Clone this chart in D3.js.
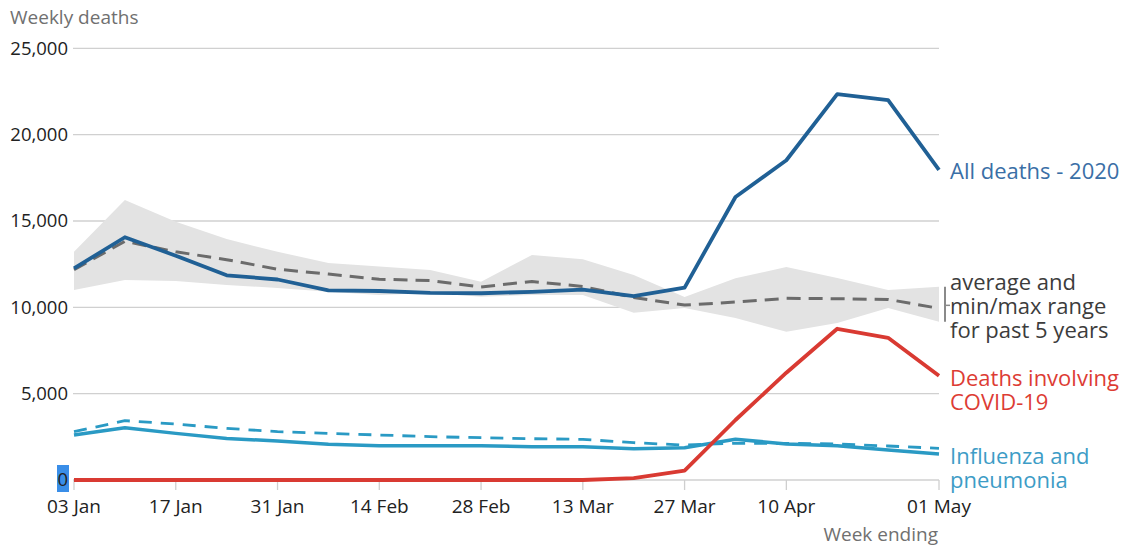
<!DOCTYPE html>
<html>
<head>
<meta charset="utf-8">
<script src="https://cdn.jsdelivr.net/npm/d3@7"></script>
<style>
  body { margin: 0; background: #fff; }
  svg text { font-family: "Open Sans", sans-serif; }
</style>
</head>
<body>
<svg id="chart" width="1128" height="546"></svg>
<script>
// week ending dates 2020
var weeks = ["2020-01-03","2020-01-10","2020-01-17","2020-01-24","2020-01-31","2020-02-07","2020-02-14","2020-02-21","2020-02-28","2020-03-06","2020-03-13","2020-03-20","2020-03-27","2020-04-03","2020-04-10","2020-04-17","2020-04-24","2020-05-01"];
var tickWeeks = ["2020-01-03","2020-01-17","2020-01-31","2020-02-14","2020-02-28","2020-03-13","2020-03-27","2020-04-10","2020-05-01"];

var allDeaths2020 = [12254, 14058, 12990, 11856, 11612, 10986, 10944, 10841, 10816, 10895, 11019, 10645, 11141, 16387, 18516, 22351, 21997, 17953];
var avg5yr = [12175, 13822, 13216, 12760, 12206, 11925, 11627, 11548, 11183, 11498, 11205, 10573, 10130, 10305, 10520, 10497, 10458, 9941];
var min5yr = [11000, 11580, 11520, 11290, 11120, 10900, 10710, 10830, 10615, 10710, 10710, 9690, 9960, 9380, 8590, 9090, 9960, 9170];
var max5yr = [13220, 16210, 14960, 13950, 13220, 12560, 12360, 12160, 11480, 13030, 12780, 11870, 10600, 11680, 12330, 11700, 11000, 11190];
var covid = [0, 0, 0, 0, 0, 0, 0, 0, 0, 0, 0, 103, 539, 3475, 6213, 8758, 8237, 6035];
var flu2020 = [2605, 3030, 2700, 2410, 2260, 2065, 1990, 1990, 1990, 1930, 1930, 1815, 1870, 2365, 2085, 1990, 1740, 1505];
var fluAvg = [2800, 3435, 3240, 2990, 2800, 2700, 2605, 2510, 2450, 2390, 2355, 2160, 2025, 2125, 2125, 2085, 1970, 1835];

var yTicks = [0, 5000, 10000, 15000, 20000, 25000];

var parse = d3.timeParse("%Y-%m-%d");
var dates = weeks.map(parse);
var tickDates = tickWeeks.map(parse);

var svg = d3.select("#chart");

var x = d3.scaleTime()
    .domain([dates[0], dates[dates.length - 1]])
    .range([74, 939]);
var y = d3.scaleLinear()
    .domain([0, 25000])
    .range([480, 48.3]);

var blue = "#206095", red = "#d93a32", teal = "#2a9ac4", grey = "#6b6b6b";

// selection highlight behind "0"
svg.append("rect")
    .attr("x", 57).attr("y", 465).attr("width", 12).attr("height", 27)
    .attr("fill", "#3a8ee8");

// gridlines + y labels
var yAxis = svg.append("g");
yAxis.selectAll("line")
    .data(yTicks)
    .enter().append("line")
    .attr("x1", 73).attr("x2", 939)
    .attr("y1", d => y(d)).attr("y2", d => y(d))
    .attr("stroke", "#d0d0d0").attr("stroke-width", 1.3);

yAxis.selectAll("text")
    .data(yTicks)
    .enter().append("text")
    .attr("x", 68).attr("y", d => y(d))
    .attr("dy", "0.35em")
    .attr("text-anchor", "end")
    .attr("font-size", 18.5)
    .attr("fill", "#222")
    .text(d => d3.format(",")(d));

// x ticks
var xAxis = svg.append("g");
xAxis.selectAll("line")
    .data(tickDates)
    .enter().append("line")
    .attr("x1", d => x(d)).attr("x2", d => x(d))
    .attr("y1", 480).attr("y2", 490)
    .attr("stroke", "#cfcfcf").attr("stroke-width", 1.3);
xAxis.selectAll("text")
    .data(tickDates)
    .enter().append("text")
    .attr("x", d => x(d)).attr("y", 506)
    .attr("dy", "0.35em")
    .attr("text-anchor", "middle")
    .attr("font-size", 19)
    .attr("fill", "#222")
    .text(d => d3.timeFormat("%d %b")(d));

// axis titles
svg.append("text")
    .attr("x", 10).attr("y", 17).attr("dy", "0.35em")
    .attr("font-size", 19).attr("fill", "#707070")
    .text("Weekly deaths");
svg.append("text")
    .attr("x", 938).attr("y", 534).attr("dy", "0.35em")
    .attr("text-anchor", "end")
    .attr("font-size", 19).attr("fill", "#707070")
    .text("Week ending");

// min/max band
var area = d3.area()
    .x((d, i) => x(dates[i]))
    .y0((d, i) => y(min5yr[i]))
    .y1((d, i) => y(max5yr[i]));
svg.append("path")
    .attr("d", area(max5yr))
    .attr("fill", "#e3e3e3");

var line = d3.line()
    .x((d, i) => x(dates[i]))
    .y(d => y(d));

function drawLine(data, color, width, dash) {
    svg.append("path")
        .attr("d", line(data))
        .attr("fill", "none")
        .attr("stroke", color)
        .attr("stroke-width", width)
        .attr("stroke-linejoin", "round")
        .attr("stroke-dasharray", dash || null);
}

drawLine(fluAvg, teal, 2.8, "13,9");
drawLine(flu2020, teal, 3.5);
drawLine(avg5yr, grey, 3, "14,8");
drawLine(allDeaths2020, blue, 3.8);
drawLine(covid, red, 3.8);

// bracket for the 5 year range
var last = dates.length - 1;
svg.append("line")
    .attr("x1", 945).attr("x2", 945)
    .attr("y1", y(max5yr[last])).attr("y2", y(min5yr[last]))
    .attr("stroke", "#8a8a8a").attr("stroke-width", 2);
svg.append("line")
    .attr("x1", 945).attr("x2", 950)
    .attr("y1", y(avg5yr[last]) - 3).attr("y2", y(avg5yr[last]) - 3)
    .attr("stroke", "#8a8a8a").attr("stroke-width", 1.5);

// end labels
function label(lines, yPos, color) {
    var t = svg.append("text")
        .attr("x", 950).attr("y", yPos)
        .attr("font-size", 22).attr("fill", color);
    lines.forEach(function(s, i) {
        t.append("tspan")
            .attr("x", 950)
            .attr("dy", i == 0 ? "0.35em" : 24)
            .text(s);
    });
}
label(["All deaths - 2020"], 171, "#3a6fa6");
label(["average and", "min/max range", "for past 5 years"], 282, "#3c3c3c");
label(["Deaths involving", "COVID-19"], 378, "#dd3c34");
label(["Influenza and", "pneumonia"], 456, "#3d9cc6");
</script>
</body>
</html>
